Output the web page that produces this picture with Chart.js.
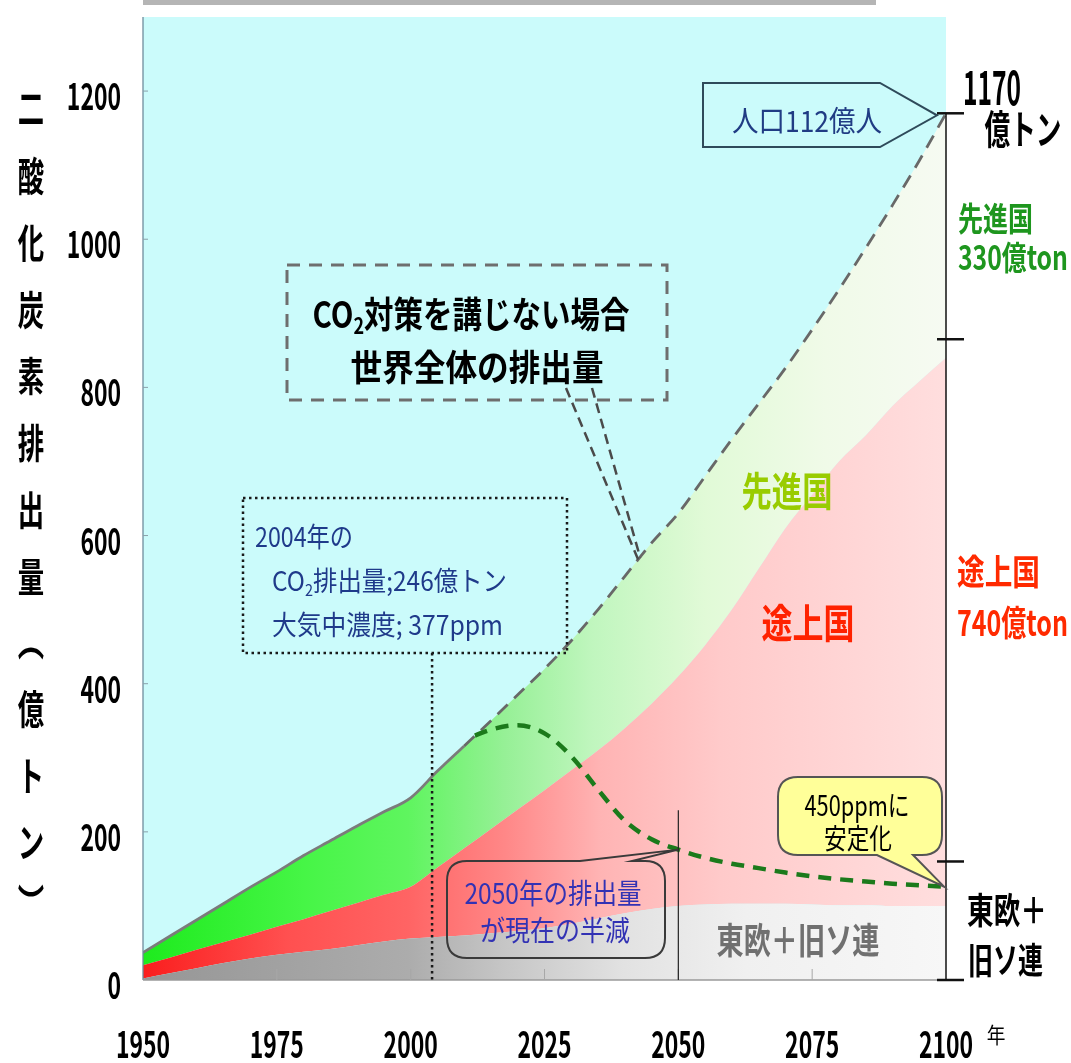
<!DOCTYPE html>
<html lang="ja">
<head>
<meta charset="utf-8">
<title>世界の二酸化炭素排出量の見通し</title>
<script src="https://cdn.jsdelivr.net/npm/chart.js@4.4.1/dist/chart.umd.min.js"></script>
<style>
  html, body { margin: 0; padding: 0; background: #fff; }
  #wrap { position: relative; width: 1071px; height: 1063px; }
</style>
</head>
<body>
<div id="wrap"><canvas id="c"></canvas></div>
<script>
// ---- data (億トン CO2 per year) ----
const years = [1950, 1955, 1960, 1965, 1970, 1975, 1980, 1985, 1990, 1995,
               2000, 2005, 2010, 2015, 2020, 2025, 2030, 2035, 2040, 2045,
               2050, 2055, 2060, 2065, 2070, 2075, 2080, 2085, 2090, 2095, 2100];
// 東欧＋旧ソ連
const eastEurope = [2, 9, 16, 23, 29, 34, 38, 42, 47, 52,
                    56, 58, 60, 63, 66, 70, 76, 83, 90, 96,
                    100, 102, 103, 103, 103, 102, 101, 101, 100, 100, 100];
// 途上国
const developing = [18, 21, 25, 28, 32, 38, 44, 51, 57, 63,
                    70, 94, 118, 141, 164, 186, 207, 227, 250, 277,
                    310, 350, 397, 452, 507, 553, 599, 634, 675, 708, 740];
// 先進国
const developed = [17, 29, 40, 52, 64, 74, 86, 95, 104, 112,
                   120, 130, 138, 146, 155, 164, 175, 190, 205, 217,
                   220, 228, 230, 223, 216, 223, 232, 253, 271, 298, 330];
// 450ppm 安定化シナリオの世界排出量
const stabYears  = [2012, 2015, 2020, 2025, 2030, 2035, 2040, 2045, 2050, 2055,
                    2060, 2065, 2070, 2075, 2080, 2085, 2090, 2095, 2100];
const stabValues = [330, 338, 344, 333, 302, 257, 215, 190, 176, 165,
                    157, 151, 145, 140, 136, 133, 130, 128, 126];

const xTicks = [1950, 1975, 2000, 2025, 2050, 2075, 2100];
const yTicks = [0, 200, 400, 600, 800, 1000, 1200];
const bracketStops = [1170, 865, 160, 0];
const yTitleChars = ['二', '酸', '化', '炭', '素', '排', '出', '量', '︵', '億', 'ト', 'ン', '︶'];

const JP = '"Noto Sans CJK JP", "Noto Sans", sans-serif';

// world total without measures = sum of the three regions
const worldTotal = years.map((_, i) => eastEurope[i] + developing[i] + developed[i]);

// ---- helpers ----
const pts = (xs, ys) => xs.map((x, i) => ({ x, y: ys[i] }));

function totalAt(year) {
  for (let i = 0; i < years.length - 1; i++) {
    if (year >= years[i] && year <= years[i + 1]) {
      const t = (year - years[i]) / (years[i + 1] - years[i]);
      return worldTotal[i] + t * (worldTotal[i + 1] - worldTotal[i]);
    }
  }
  return worldTotal[worldTotal.length - 1];
}

function hGrad(stops) {
  return (c) => {
    const a = c.chart.chartArea;
    if (!a) return 'rgba(0,0,0,0)';
    const g = c.chart.ctx.createLinearGradient(a.left, 0, a.right, 0);
    stops.forEach(([o, col]) => g.addColorStop(o, col));
    return g;
  };
}

// draws text horizontally condensed to a given width (or by a fixed factor)
function fitText(ctx, text, x, y, o) {
  ctx.save();
  ctx.font = `${o.weight || 'normal'} ${o.size}px ${JP}`;
  ctx.fillStyle = o.color || '#000';
  ctx.textBaseline = 'middle';
  ctx.textAlign = 'left';
  const w = ctx.measureText(text).width;
  const sx = o.width ? o.width / w : (o.sx || 1);
  const dw = w * sx;
  let left = x;
  if (o.align === 'center') left = x - dw / 2;
  else if (o.align === 'right') left = x - dw;
  ctx.translate(left, y);
  ctx.scale(sx, 1);
  ctx.fillText(text, 0, 0);
  ctx.restore();
}

// same, for text made of parts with subscripts (CO2)
function richText(ctx, parts, x, y, o) {
  ctx.save();
  ctx.textBaseline = 'middle';
  ctx.textAlign = 'left';
  ctx.fillStyle = o.color || '#000';
  const fonts = parts.map(p => `${o.weight || 'normal'} ${p.sub ? Math.round(o.size * 0.6) : o.size}px ${JP}`);
  const widths = parts.map((p, i) => { ctx.font = fonts[i]; return ctx.measureText(p.t).width; });
  const total = widths.reduce((s, v) => s + v, 0);
  const sx = o.width ? o.width / total : (o.sx || 1);
  const left = o.align === 'center' ? x - total * sx / 2 : x;
  ctx.translate(left, y);
  ctx.scale(sx, 1);
  let cx = 0;
  parts.forEach((p, i) => {
    ctx.font = fonts[i];
    ctx.fillText(p.t, cx, p.sub ? o.size * 0.32 : 0);
    cx += widths[i];
  });
  ctx.restore();
}

function line(ctx, x0, y0, x1, y1, color, width, dash) {
  ctx.save();
  ctx.strokeStyle = color;
  ctx.lineWidth = width;
  ctx.setLineDash(dash || []);
  ctx.beginPath();
  ctx.moveTo(x0, y0);
  ctx.lineTo(x1, y1);
  ctx.stroke();
  ctx.restore();
}

// rounded speech bubble; tail on 'top' or 'bottom' edge between bx0..bx1
function bubble(ctx, x0, y0, x1, y1, r, side, bx0, bx1, tip) {
  ctx.beginPath();
  ctx.moveTo(x0 + r, y0);
  if (side === 'top') { ctx.lineTo(bx0, y0); ctx.lineTo(tip[0], tip[1]); ctx.lineTo(bx1, y0); }
  ctx.lineTo(x1 - r, y0);
  ctx.quadraticCurveTo(x1, y0, x1, y0 + r);
  ctx.lineTo(x1, y1 - r);
  ctx.quadraticCurveTo(x1, y1, x1 - r, y1);
  if (side === 'bottom') { ctx.lineTo(bx1, y1); ctx.lineTo(tip[0], tip[1]); ctx.lineTo(bx0, y1); }
  ctx.lineTo(x0 + r, y1);
  ctx.quadraticCurveTo(x0, y1, x0, y1 - r);
  ctx.lineTo(x0, y0 + r);
  ctx.quadraticCurveTo(x0, y0, x0 + r, y0);
  ctx.closePath();
}

// ---- backdrop, axes and annotations ----
const decor = {
  id: 'decor',
  beforeDraw(chart) {
    const { ctx, chartArea: a } = chart;
    ctx.save();
    ctx.fillStyle = '#ffffff';
    ctx.fillRect(0, 0, chart.width, chart.height);
    ctx.fillStyle = '#b5b5b5';
    ctx.fillRect(a.left, 0, 733, 5);
    ctx.fillStyle = '#cbfbfb';
    ctx.fillRect(a.left, a.top, a.right - a.left, a.bottom - a.top);
    ctx.restore();
  },
  afterDatasetsDraw(chart) {
    const { ctx, chartArea: a } = chart;
    const xs = chart.scales.x, ys = chart.scales.y;
    const X = v => xs.getPixelForValue(v);
    const Y = v => ys.getPixelForValue(v);

    // axis lines and inward tick marks
    line(ctx, a.left, a.top, a.left, a.bottom, '#6f8c9c', 1.3);
    line(ctx, a.left, a.bottom, a.right, a.bottom, '#9a9a9a', 1.3);
    yTicks.forEach(v => { if (v > 0) line(ctx, a.left, Y(v), a.left + 5, Y(v), '#8aa0aa', 1); });
    xTicks.forEach(v => { if (v > 1950 && v < 2100) line(ctx, X(v), a.bottom, X(v), a.bottom - 11, '#a8a8a8', 1); });

    // tick labels
    yTicks.forEach(v => fitText(ctx, String(v), 121, Y(v) + 5, { size: 37, weight: 'bold', sx: 0.62, align: 'right' }));
    xTicks.forEach(v => fitText(ctx, String(v), X(v), 1044, { size: 37, weight: 'bold', sx: 0.62, align: 'center' }));
    fitText(ctx, '年', 996, 1035, { size: 22, sx: 0.85, align: 'center' });

    // vertical axis title
    const titleY = [108, 176, 243, 310, 376, 443, 510, 577, 641, 709, 776, 842, 903];
    yTitleChars.forEach((ch, i) => fitText(ctx, ch, 31, titleY[i], { size: 40, weight: 'bold', sx: 0.66, align: 'center' }));

    // 2050 marker line
    line(ctx, X(2050), Y(229), X(2050), a.bottom, '#222', 1.2);

    // 2004 dotted marker + box
    line(ctx, X(2004), 653, X(2004), a.bottom, '#1a1a1a', 2.5, [2.5, 3.5]);
    ctx.save();
    ctx.strokeStyle = '#1a1a1a'; ctx.lineWidth = 2.5; ctx.setLineDash([2.5, 3.5]);
    ctx.strokeRect(243, 498, 324, 155);
    ctx.restore();
    const blue = '#1f3a8a';
    fitText(ctx, '2004年の', 255, 537, { size: 27, color: blue, width: 98 });
    richText(ctx, [{ t: 'CO' }, { t: '2', sub: true }, { t: '排出量;246億トン' }], 272, 581, { size: 27, color: blue, width: 235 });
    fitText(ctx, '大気中濃度; 377ppm', 272, 625, { size: 27, color: blue, width: 231 });

    // no-measures callout box and its pointer
    ctx.save();
    ctx.strokeStyle = '#6e6e6e'; ctx.lineWidth = 3; ctx.setLineDash([13, 9]);
    ctx.strokeRect(287, 265, 380, 135);
    ctx.restore();
    richText(ctx, [{ t: 'CO' }, { t: '2', sub: true }, { t: '対策を講じない場合' }], 471, 314, { size: 36, weight: 'bold', width: 317, align: 'center' });
    fitText(ctx, '世界全体の排出量', 477, 367, { size: 36, weight: 'bold', width: 253, align: 'center' });
    const tipX = X(2042.5), tipY = Y(totalAt(2042.5));
    line(ctx, 566, 388, tipX, tipY, '#4a4a4a', 2.5, [10, 6]);
    line(ctx, 592, 388, tipX + 2, tipY - 2, '#4a4a4a', 2.5, [10, 6]);

    // population arrow at the 2100 endpoint
    ctx.save();
    ctx.beginPath();
    ctx.moveTo(703, 83); ctx.lineTo(880, 83);
    ctx.lineTo(X(2100) - 9, Y(1170) + 2);
    ctx.lineTo(880, 147); ctx.lineTo(703, 147); ctx.closePath();
    ctx.fillStyle = '#cbfbfb'; ctx.fill();
    ctx.strokeStyle = '#2e4a5a'; ctx.lineWidth = 2; ctx.stroke();
    ctx.restore();
    fitText(ctx, '人口112億人', 732, 121, { size: 29, color: '#203c84', width: 150 });

    // right-hand bracket
    const bx = X(2100);
    line(ctx, bx, Y(bracketStops[0]), bx, Y(0), '#111', 1.5);
    bracketStops.forEach(v => line(ctx, bx - 9, Y(v), bx + 18, Y(v), '#111', 2.5));
    fitText(ctx, '1170', 992, 88, { size: 46, weight: 'bold', width: 58, align: 'center' });
    fitText(ctx, '億トン', 1023, 129, { size: 40, weight: 'bold', width: 77, align: 'center' });
    fitText(ctx, '先進国', 958, 218, { size: 33, weight: 'bold', width: 75, color: '#1e961e' });
    fitText(ctx, '330億ton', 958, 257, { size: 33, weight: 'bold', width: 110, color: '#1e961e' });
    fitText(ctx, '途上国', 957, 572, { size: 35, weight: 'bold', width: 83, color: '#ff2a00' });
    fitText(ctx, '740億ton', 957, 623, { size: 35, weight: 'bold', width: 111, color: '#ff2a00' });
    fitText(ctx, '東欧＋', 967, 910, { size: 36, weight: 'bold', width: 80 });
    fitText(ctx, '旧ソ連', 968, 960, { size: 36, weight: 'bold', width: 75 });

    // region labels inside the plot
    fitText(ctx, '先進国', 787, 491, { size: 40, weight: 'bold', width: 91, color: '#99cc00', align: 'center' });
    fitText(ctx, '途上国', 808, 623, { size: 40, weight: 'bold', width: 93, color: '#ff2200', align: 'center' });
    fitText(ctx, '東欧＋旧ソ連', 798, 940, { size: 36, weight: 'bold', width: 163, color: '#707070', align: 'center' });

    // 2050 callout
    ctx.save();
    bubble(ctx, 447, 861, 665, 958, 20, 'top', 580, 632, [X(2050), Y(176)]);
    ctx.strokeStyle = '#3a3a3a'; ctx.lineWidth = 2; ctx.stroke();
    ctx.restore();
    fitText(ctx, '2050年の排出量', 553, 893, { size: 28, color: '#3232b4', width: 177, align: 'center' });
    fitText(ctx, 'が現在の半減', 555, 930, { size: 28, color: '#3232b4', width: 150, align: 'center' });

    // 450ppm callout
    ctx.save();
    bubble(ctx, 778, 777, 942, 855, 20, 'bottom', 877, 913, [X(2100) - 2, Y(126)]);
    ctx.fillStyle = '#ffff99'; ctx.fill();
    ctx.strokeStyle = '#555'; ctx.lineWidth = 2; ctx.stroke();
    ctx.restore();
    fitText(ctx, '450ppmに', 857, 805, { size: 28, width: 105, align: 'center' });
    fitText(ctx, '安定化', 858, 838, { size: 28, width: 68, align: 'center' });
  }
};

// ---- chart ----
new Chart(document.getElementById('c'), {
  type: 'line',
  data: {
    datasets: [
      {
        label: '東欧＋旧ソ連',
        data: pts(years, eastEurope),
        stack: 'regions',
        order: 3,
        fill: 'origin',
        borderWidth: 0,
        pointRadius: 0,
        cubicInterpolationMode: 'monotone',
        backgroundColor: hGrad([[0, 'rgb(150,150,150)'], [0.33, 'rgb(172,172,172)'], [0.45, 'rgb(198,198,198)'],
                                [0.6, 'rgb(226,226,226)'], [0.75, 'rgb(240,240,240)'], [1, 'rgb(247,247,247)']])
      },
      {
        label: '途上国',
        data: pts(years, developing),
        stack: 'regions',
        order: 3,
        fill: '-1',
        borderWidth: 0,
        pointRadius: 0,
        cubicInterpolationMode: 'monotone',
        backgroundColor: hGrad([[0, 'rgb(250,30,30)'], [0.18, 'rgb(255,80,80)'], [0.33, 'rgb(255,100,100)'],
                                [0.45, 'rgb(255,135,135)'], [0.57, 'rgb(255,180,180)'], [0.72, 'rgb(255,202,202)'],
                                [1, 'rgb(255,222,222)']])
      },
      {
        label: '先進国',
        data: pts(years, developed),
        stack: 'regions',
        order: 3,
        fill: '-1',
        borderWidth: 0,
        pointRadius: 0,
        cubicInterpolationMode: 'monotone',
        backgroundColor: hGrad([[0, 'rgb(30,235,30)'], [0.2, 'rgb(70,245,70)'], [0.33, 'rgb(95,245,95)'],
                                [0.45, 'rgb(150,240,150)'], [0.56, 'rgb(192,246,190)'], [0.7, 'rgb(225,250,215)'],
                                [0.85, 'rgb(240,250,232)'], [1, 'rgb(246,250,242)']])
      },
      {
        label: 'CO2対策を講じない場合',
        data: pts(years, worldTotal),
        stack: 'noMeasures',
        order: 1,
        fill: false,
        borderWidth: 2.8,
        borderColor: '#7b7b7b',
        pointRadius: 0,
        cubicInterpolationMode: 'monotone',
        segment: {
          borderDash: c => (c.p0.parsed.x >= 2010 ? [14, 9] : undefined),
          borderColor: c => (c.p0.parsed.x >= 2010 ? '#686868' : '#7b7b7b')
        }
      },
      {
        label: '450ppm安定化',
        data: pts(stabYears, stabValues),
        stack: 'stabilization',
        order: 0,
        fill: false,
        borderColor: '#1b7a1b',
        borderWidth: 4.5,
        borderDash: [13, 9],
        pointRadius: 0,
        cubicInterpolationMode: 'monotone'
      }
    ]
  },
  options: {
    responsive: true,
    maintainAspectRatio: false,
    animation: false,
    layout: { padding: { left: 143, top: 17, right: 125, bottom: 83 } },
    scales: {
      x: { type: 'linear', min: 1950, max: 2100, display: false },
      y: { min: 0, max: 1300, stacked: true, display: false }
    },
    plugins: { legend: { display: false }, tooltip: { enabled: false } }
  },
  plugins: [decor]
});
</script>
</body>
</html>
